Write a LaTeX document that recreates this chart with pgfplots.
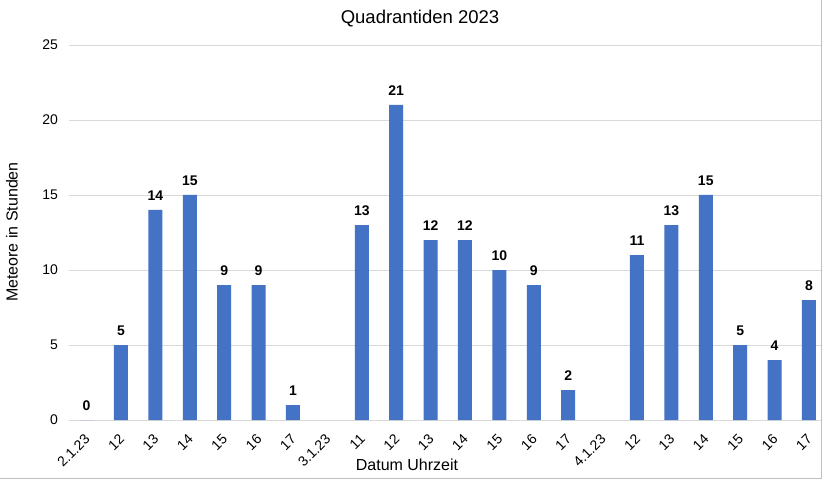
\documentclass[border=0pt]{standalone}
\usepackage{fontspec}
\setmainfont{Liberation Sans}
\usepackage{pgfplots}
\pgfplotsset{compat=1.18}
\definecolor{barblue}{HTML}{4472C4}
\definecolor{gridgray}{HTML}{D9D9D9}
\definecolor{framegray}{HTML}{BFBFBF}
\begin{document}
\begin{tikzpicture}
\path[use as bounding box, fill=white] (0pt,0pt) rectangle (825pt,480pt);
\draw[framegray, line width=1pt] (0pt,2pt) -- (821pt,2pt) -- (821pt,480pt);
\begin{axis}[
  at={(69.4pt,60pt)}, anchor=south west,
  scale only axis, width=751.6pt, height=375pt,
  ybar, bar width=14pt, bar shift=0pt,
  xmin=-0.5, xmax=21.35, ymin=0, ymax=25,
  xtick={0,...,21},
  xticklabels={2.1.23,12,13,14,15,16,17,3.1.23,11,12,13,14,15,16,17,4.1.23,12,13,14,15,16,17},
  ytick={0,5,10,15,20,25},
  ymajorgrids, grid style={gridgray, line width=0.8pt},
  axis y line*=left, axis x line*=bottom,
  y axis line style={draw=none},
  x axis line style={gridgray, line width=0.8pt, -},
  major tick length=0pt,
  /pgf/number format/assume math mode=true,
  yticklabel style={font=\fontsize{14}{16}\selectfont, xshift=-8pt},
  xticklabel style={font=\fontsize{14}{16}\selectfont, rotate=45, anchor=north east, xshift=-8pt, yshift=-4pt},
  nodes near coords,
  every node near coord/.append style={font=\fontsize{14}{16}\selectfont\bfseries, black, yshift=6pt},
  clip=false,
]
\addplot[fill=barblue, draw=none] coordinates {
(0,0) (1,5) (2,14) (3,15) (4,9) (5,9) (6,1)
(8,13) (9,21) (10,12) (11,12) (12,10) (13,9) (14,2)
(16,11) (17,13) (18,15) (19,5) (20,4) (21,8)
};
\end{axis}
\node[font=\fontsize{18.5}{20}\selectfont] at (420pt,461pt) {Quadrantiden 2023};
\node[font=\fontsize{16}{18}\selectfont, rotate=90] at (12pt,248pt) {Meteore in Stunden};
\node[font=\fontsize{16}{18}\selectfont] at (407pt,15pt) {Datum Uhrzeit};
\end{tikzpicture}
\end{document}
